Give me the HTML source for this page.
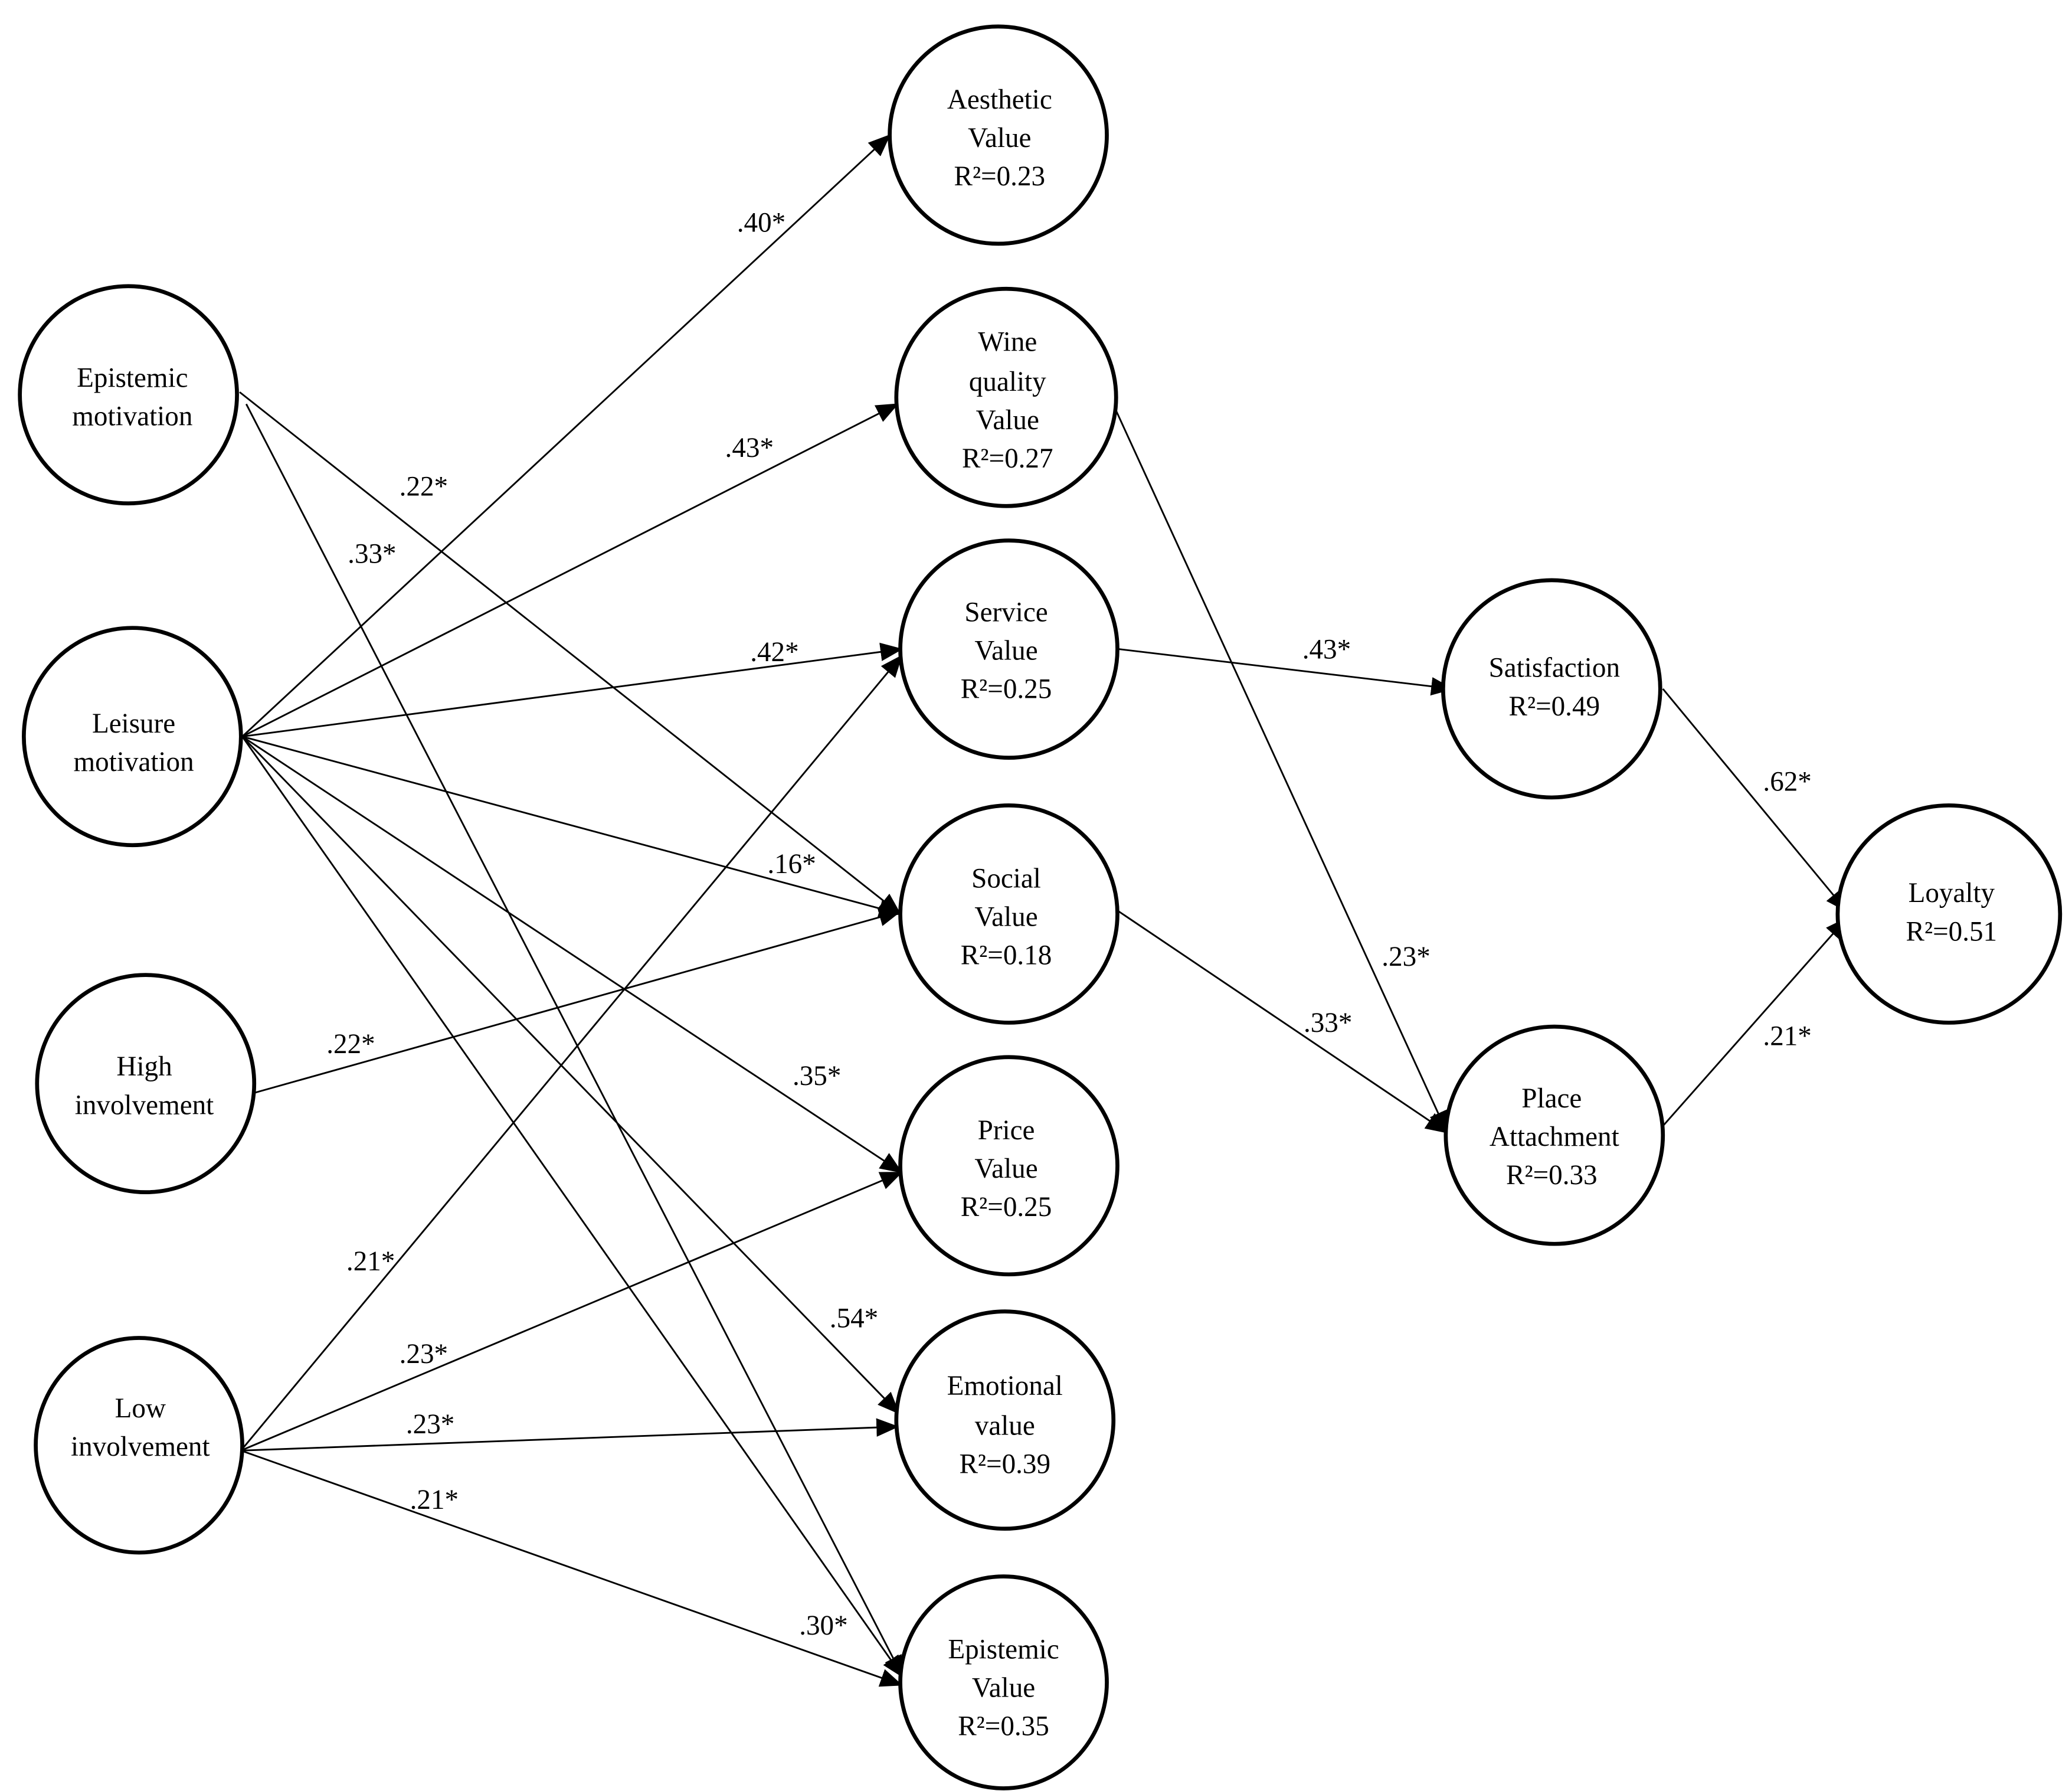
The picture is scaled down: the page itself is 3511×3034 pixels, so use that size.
<!DOCTYPE html>
<html><head><meta charset="utf-8"><style>html,body{margin:0;padding:0;background:#fff}svg{display:block}</style></head>
<body>
<svg width="3511" height="3034" viewBox="0 0 1565 1352" preserveAspectRatio="none" xmlns="http://www.w3.org/2000/svg">
<defs>
<marker id="a" markerUnits="userSpaceOnUse" markerWidth="18" markerHeight="14" refX="16" refY="7" orient="auto">
<path d="M0,0 L17,7 L0,14 z" fill="#000"/>
</marker>
</defs>
<g stroke="#000" stroke-width="1.3" fill="none" marker-end="url(#a)">
<line x1="181" y1="296" x2="680" y2="690"/>
<line x1="186" y1="305" x2="682" y2="1266"/>
<line x1="183" y1="556" x2="672" y2="102"/>
<line x1="183" y1="556" x2="678" y2="305"/>
<line x1="183" y1="556" x2="681" y2="490"/>
<line x1="183" y1="556" x2="680" y2="690"/>
<line x1="183" y1="556" x2="681" y2="885"/>
<line x1="183" y1="556" x2="679" y2="1067"/>
<line x1="183" y1="556" x2="682" y2="1266"/>
<line x1="192" y1="825" x2="680" y2="688"/>
<line x1="182" y1="1095" x2="681" y2="495"/>
<line x1="182" y1="1095" x2="681" y2="885"/>
<line x1="182" y1="1095" x2="678" y2="1077"/>
<line x1="182" y1="1095" x2="681" y2="1272"/>
<line x1="843" y1="310" x2="1093" y2="855"/>
<line x1="845" y1="490" x2="1097" y2="520"/>
<line x1="845" y1="688" x2="1093" y2="855"/>
<line x1="1256" y1="520" x2="1395" y2="688"/>
<line x1="1256" y1="850" x2="1395" y2="693"/>
</g>
<g stroke="#000" stroke-width="3" fill="#fff">
<ellipse cx="97" cy="298" rx="82" ry="82"/>
<ellipse cx="100" cy="556" rx="82" ry="82"/>
<ellipse cx="110" cy="818" rx="82" ry="82"/>
<ellipse cx="105" cy="1091" rx="78" ry="81"/>
<ellipse cx="754" cy="102" rx="82" ry="82"/>
<ellipse cx="760" cy="300" rx="83" ry="82"/>
<ellipse cx="762" cy="490" rx="82" ry="82"/>
<ellipse cx="762" cy="690" rx="82" ry="82"/>
<ellipse cx="762" cy="880" rx="82" ry="82"/>
<ellipse cx="759" cy="1072" rx="82" ry="82"/>
<ellipse cx="758" cy="1270" rx="78" ry="80"/>
<ellipse cx="1172" cy="520" rx="82" ry="82"/>
<ellipse cx="1174" cy="857" rx="82" ry="82"/>
<ellipse cx="1472" cy="690" rx="84" ry="82"/>
</g>
<g font-family="'Liberation Serif',serif" font-size="21" text-anchor="middle" fill="#000">
<text x="100" y="292">Epistemic</text><text x="100" y="321">motivation</text>
<text x="101" y="553">Leisure</text><text x="101" y="582">motivation</text>
<text x="109" y="812">High</text><text x="109" y="841">involvement</text>
<text x="106" y="1070">Low</text><text x="106" y="1099">involvement</text>
<text x="755" y="82">Aesthetic</text><text x="755" y="111">Value</text><text x="755" y="140">R²=0.23</text>
<text x="761" y="265">Wine</text><text x="761" y="295">quality</text><text x="761" y="324">Value</text><text x="761" y="353">R²=0.27</text>
<text x="760" y="469">Service</text><text x="760" y="498">Value</text><text x="760" y="527">R²=0.25</text>
<text x="760" y="670">Social</text><text x="760" y="699">Value</text><text x="760" y="728">R²=0.18</text>
<text x="760" y="860">Price</text><text x="760" y="889">Value</text><text x="760" y="918">R²=0.25</text>
<text x="759" y="1053">Emotional</text><text x="759" y="1083">value</text><text x="759" y="1112">R²=0.39</text>
<text x="758" y="1252">Epistemic</text><text x="758" y="1281">Value</text><text x="758" y="1310">R²=0.35</text>
<text x="1174" y="511">Satisfaction</text><text x="1174" y="540">R²=0.49</text>
<text x="1172" y="836">Place</text><text x="1174" y="865">Attachment</text><text x="1172" y="894">R²=0.33</text>
<text x="1474" y="681">Loyalty</text><text x="1474" y="710">R²=0.51</text>
<text x="575" y="175">.40*</text>
<text x="566" y="345">.43*</text>
<text x="320" y="374">.22*</text>
<text x="281" y="425">.33*</text>
<text x="585" y="499">.42*</text>
<text x="598" y="659">.16*</text>
<text x="265" y="795">.22*</text>
<text x="617" y="819">.35*</text>
<text x="280" y="959">.21*</text>
<text x="645" y="1002">.54*</text>
<text x="320" y="1029">.23*</text>
<text x="325" y="1082">.23*</text>
<text x="328" y="1139">.21*</text>
<text x="622" y="1234">.30*</text>
<text x="1002" y="497">.43*</text>
<text x="1062" y="729">.23*</text>
<text x="1003" y="779">.33*</text>
<text x="1350" y="597">.62*</text>
<text x="1350" y="789">.21*</text>
</g>
</svg>
</body></html>
